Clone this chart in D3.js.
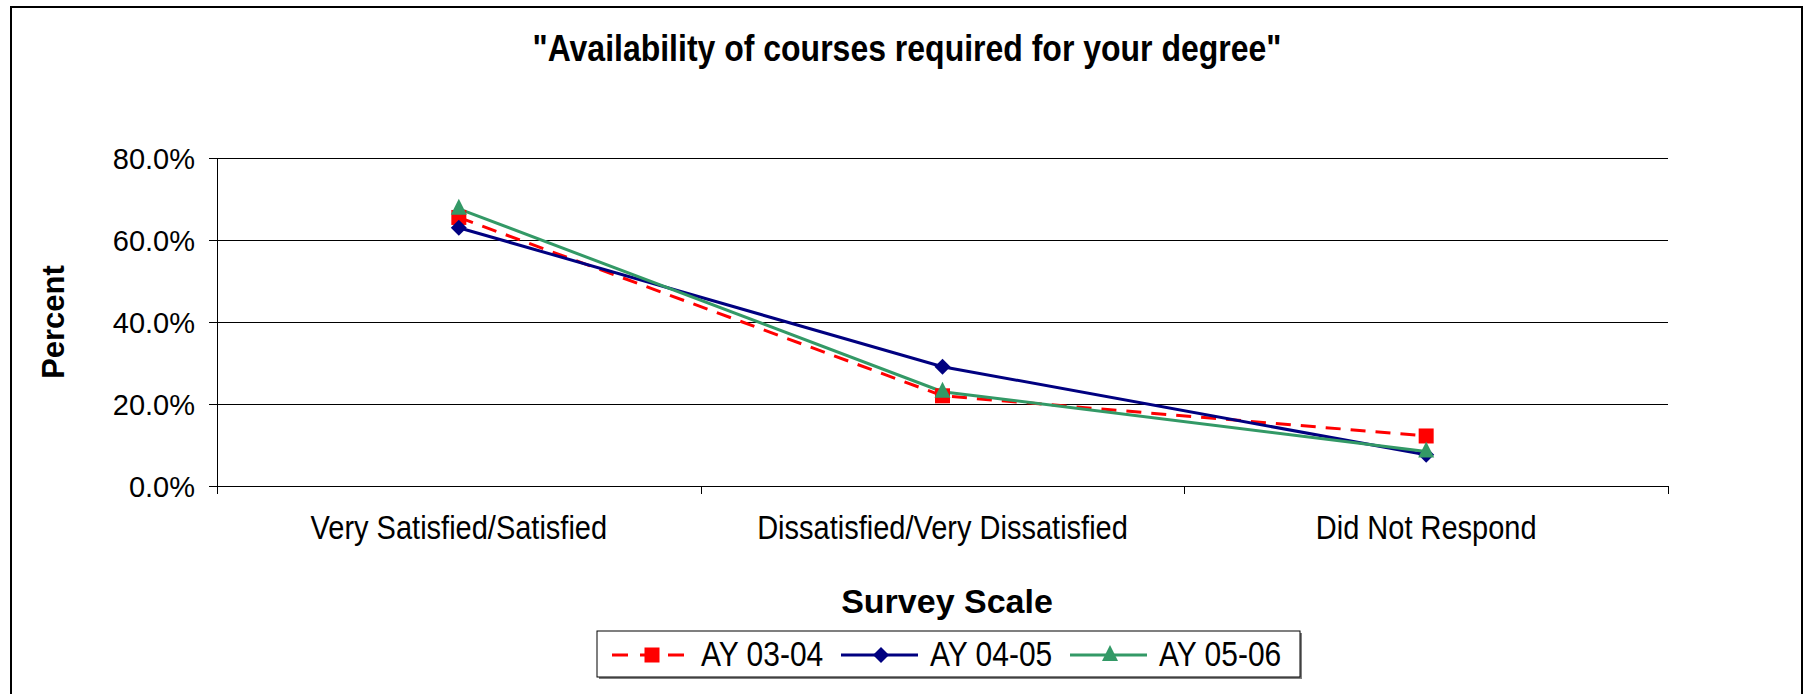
<!DOCTYPE html>
<html lang="en">
<head>
    <meta charset="UTF-8">
    <title>Availability of courses</title>
    <script src="https://d3js.org/d3.v7.min.js"></script>
    <style>
        body { margin: 0; background: #fff; }
        text { font-family: "Liberation Sans", Arial, sans-serif; fill: #000; }
        .grid line { stroke: #000; stroke-width: 1; }
        .axis path, .axis line { stroke: #000; stroke-width: 1; shape-rendering: crispEdges; }
    </style>
</head>
<body>

<svg width="1806" height="694"></svg>

<script>

    var categories = ["Very Satisfied/Satisfied", "Dissatisfied/Very Dissatisfied", "Did Not Respond"];
    var seriesNames = ["AY 03-04", "AY 04-05", "AY 05-06"];
    var ay0304 = [65.5, 22.0, 12.2];
    var ay0405 = [63.0, 29.1, 7.6];
    var ay0506 = [67.6, 23.0, 8.4];
    var yTicks = [0, 20, 40, 60, 80];

    var series = [
        {name: seriesNames[0], values: ay0304, color: "#ff0000", dash: "15,10", marker: "square"},
        {name: seriesNames[1], values: ay0405, color: "#000080", dash: null, marker: "diamond"},
        {name: seriesNames[2], values: ay0506, color: "#339966", dash: null, marker: "triangle"}
    ];

    var svg = d3.select("svg"),
        plot = {left: 217, right: 1668, top: 158, bottom: 486};

    // outer chart border
    svg.append("rect")
        .attr("x", 11).attr("y", 7)
        .attr("width", 1791).attr("height", 720)
        .attr("fill", "none")
        .attr("stroke", "#000")
        .attr("stroke-width", 2);

    var x = d3.scaleBand().domain(categories).range([plot.left, plot.right]);
    var y = d3.scaleLinear().domain([0, 80]).range([plot.bottom, plot.top]);

    // horizontal grid lines
    svg.append("g").attr("class", "grid")
        .selectAll("line")
        .data(yTicks)
        .enter().append("line")
        .attr("x1", plot.left).attr("x2", plot.right)
        .attr("y1", function(d) { return Math.round(y(d)) + 0.5; })
        .attr("y2", function(d) { return Math.round(y(d)) + 0.5; });

    // y axis
    var yAxis = svg.append("g").attr("class", "axis")
        .attr("transform", "translate(" + plot.left + ",0)")
        .call(d3.axisLeft(y).tickValues(yTicks).tickSize(8).tickPadding(14)
            .tickFormat(function(d) { return d.toFixed(1) + "%"; }));
    yAxis.select(".domain").remove();
    yAxis.append("line").attr("x1", 0).attr("x2", 0)
        .attr("y1", plot.top).attr("y2", plot.bottom + 8);
    yAxis.selectAll("text").style("font-size", "29px").attr("dy", "0.36em");

    // x axis, ticks sit between categories
    var xg = svg.append("g").attr("class", "axis")
        .attr("transform", "translate(0," + plot.bottom + ")");
    xg.append("line").attr("x1", plot.left).attr("x2", plot.right).attr("y1", 0).attr("y2", 0);
    var bounds = categories.map(function(c) { return x(c); }).concat([plot.right]);
    xg.selectAll(".xtick").data(bounds).enter().append("line")
        .attr("class", "xtick")
        .attr("x1", function(d) { return Math.round(d) + 0.5; })
        .attr("x2", function(d) { return Math.round(d) + 0.5; })
        .attr("y1", 0).attr("y2", 8);
    xg.selectAll(".xlabel").data(categories).enter().append("text")
        .attr("class", "xlabel")
        .attr("x", function(d) { return x(d) + x.bandwidth() / 2; })
        .attr("y", 53)
        .attr("text-anchor", "middle")
        .attr("transform", function(d) {
            var cx = x(d) + x.bandwidth() / 2;
            return "translate(" + cx + ",53) scale(1,1.15) translate(" + (-cx) + ",-53)";
        })
        .style("font-size", "29px")
        .text(function(d) { return d; });

    // titles
    svg.append("text")
        .attr("x", 907).attr("y", 61)
        .attr("text-anchor", "middle")
        .attr("transform", "translate(907,61) scale(1,1.15) translate(-907,-61)")
        .style("font-size", "32px").style("font-weight", "bold")
        .text('"Availability of courses required for your degree"');

    svg.append("text")
        .attr("transform", "translate(64,322) rotate(-90)")
        .attr("text-anchor", "middle")
        .style("font-size", "31px").style("font-weight", "bold")
        .text("Percent");

    svg.append("text")
        .attr("x", 947).attr("y", 613)
        .attr("text-anchor", "middle")
        .style("font-size", "34px").style("font-weight", "bold")
        .text("Survey Scale");

    function drawMarker(g, type, color) {
        if (type === "square") {
            g.append("rect").attr("x", -7.5).attr("y", -7.5).attr("width", 15).attr("height", 15).attr("fill", color);
        } else if (type === "diamond") {
            g.append("path").attr("d", "M0,-8L8,0L0,8L-8,0Z").attr("fill", color);
        } else {
            g.append("path").attr("d", "M0,-10L8,6L-8,6Z").attr("fill", color);
        }
    }

    var line = d3.line()
        .x(function(d, i) { return x(categories[i]) + x.bandwidth() / 2; })
        .y(function(d) { return y(d); });

    series.forEach(function(s) {
        svg.append("path")
            .attr("d", line(s.values))
            .attr("fill", "none")
            .attr("stroke", s.color)
            .attr("stroke-width", 3)
            .attr("stroke-dasharray", s.dash);
    });
    series.forEach(function(s) {
        s.values.forEach(function(v, i) {
            var g = svg.append("g")
                .attr("transform", "translate(" + (x(categories[i]) + x.bandwidth() / 2) + "," + y(v) + ")");
            drawMarker(g, s.marker, s.color);
        });
    });

    // legend
    var legend = svg.append("g");
    legend.append("rect")
        .attr("x", 599).attr("y", 633).attr("width", 703).attr("height", 46)
        .attr("fill", "#808080");
    legend.append("rect")
        .attr("x", 597).attr("y", 631).attr("width", 703).attr("height", 46)
        .attr("fill", "#fff").attr("stroke", "#000").attr("stroke-width", 1);

    var legendX = [612, 841, 1070];
    series.forEach(function(s, i) {
        var lx = legendX[i];
        legend.append("line")
            .attr("x1", lx).attr("x2", lx + 77)
            .attr("y1", 655).attr("y2", 655)
            .attr("stroke", s.color).attr("stroke-width", 3)
            .attr("stroke-dasharray", s.dash ? "16,12" : null);
        var g = legend.append("g").attr("transform", "translate(" + (lx + 40) + ",655)");
        drawMarker(g, s.marker, s.color);
        legend.append("text")
            .attr("x", lx + 89).attr("y", 666)
            .attr("transform", "translate(" + (lx + 89) + ",666) scale(1,1.15) translate(" + (-(lx + 89)) + ",-666)")
            .style("font-size", "30px")
            .text(s.name);
    });

</script>

</body>
</html>
